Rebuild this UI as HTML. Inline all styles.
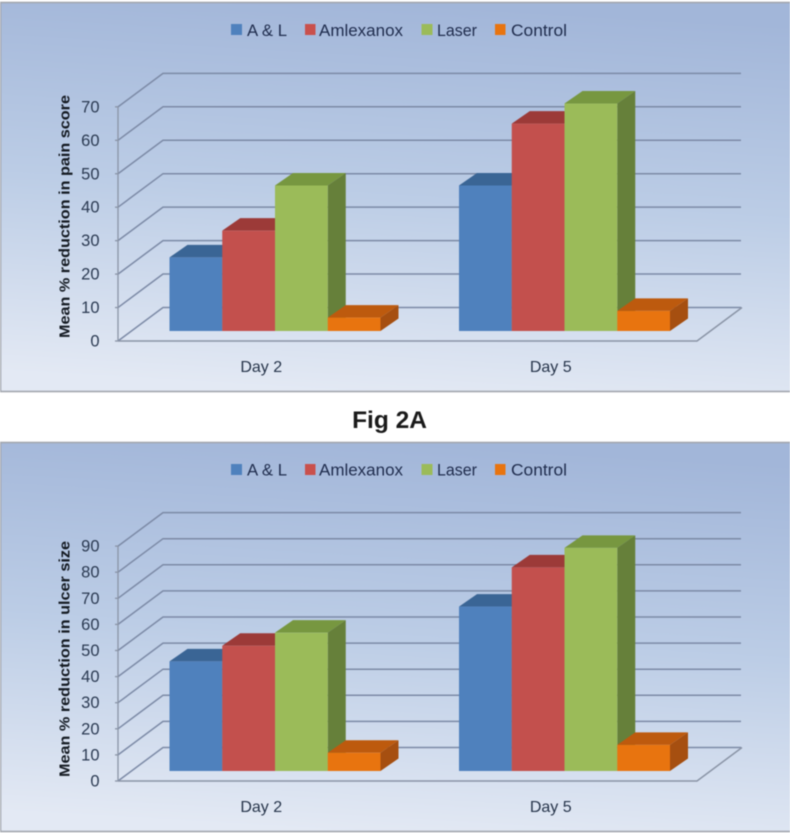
<!DOCTYPE html>
<html>
<head>
<meta charset="utf-8">
<title>Fig 2A and 2B</title>
<style>
html,body{margin:0;padding:0;background:#fff;width:790px;height:833px;overflow:hidden}
svg{display:block;filter:blur(0.5px)}
text{font-family:"Liberation Sans",sans-serif}
.lg{font-size:16.5px;fill:#1f2c4d}
.tick{font-size:16.5px;fill:#2b3a52;text-anchor:end}
.cat{font-size:16px;fill:#26344a;text-anchor:middle}
.ttl{font-size:15px;font-weight:bold;fill:#141a22}
</style>
</head>
<body>
<svg id="figure" xmlns="http://www.w3.org/2000/svg" width="790" height="833" viewBox="0 0 790 833">
  <defs>
    <linearGradient id="panelFill" x1="0.56" y1="0" x2="0.44" y2="1">
      <stop offset="0" stop-color="#a2b6d9"/>
      <stop offset="0.5" stop-color="#bccde6"/>
      <stop offset="1" stop-color="#e3e9f4"/>
    </linearGradient>
  </defs>

  <g id="chartA">
    <rect x="0.5" y="2.5" width="792" height="389" fill="url(#panelFill)" stroke="#a2a6ae" stroke-width="1.6"/>
    <g>
      <rect x="231" y="24" width="11" height="11" fill="#4f81bd"/>
      <text class="lg" x="247" y="36" textLength="40" lengthAdjust="spacingAndGlyphs">A &amp; L</text>
      <rect x="305" y="24" width="10.5" height="11" fill="#c9504c"/>
      <text class="lg" x="319" y="36" textLength="84" lengthAdjust="spacingAndGlyphs">Amlexanox</text>
      <rect x="421.5" y="24" width="11" height="11" fill="#9bbb59"/>
      <text class="lg" x="437" y="36" textLength="40" lengthAdjust="spacingAndGlyphs">Laser</text>
      <rect x="495" y="24" width="10.5" height="11" fill="#e8740f"/>
      <text class="lg" x="511" y="36" textLength="56" lengthAdjust="spacingAndGlyphs">Control</text>
    </g>
    <text class="ttl" transform="translate(69.5,338) rotate(-90)" textLength="243" lengthAdjust="spacingAndGlyphs">Mean % reduction in pain score</text>
  </g>

  <text x="389.5" y="428" text-anchor="middle" font-size="24.5" font-weight="bold" fill="#1a1a1a">Fig 2A</text>

  <g id="chartB" transform="translate(0,440)">
    <rect x="0.5" y="2.5" width="792" height="389" fill="url(#panelFill)" stroke="#a2a6ae" stroke-width="1.6"/>
    <g>
      <rect x="231" y="24" width="11" height="11" fill="#4f81bd"/>
      <text class="lg" x="247" y="35.5" textLength="40" lengthAdjust="spacingAndGlyphs">A &amp; L</text>
      <rect x="305" y="24" width="10.5" height="11" fill="#c9504c"/>
      <text class="lg" x="319" y="35.5" textLength="84" lengthAdjust="spacingAndGlyphs">Amlexanox</text>
      <rect x="421.5" y="24" width="11" height="11" fill="#9bbb59"/>
      <text class="lg" x="437" y="35.5" textLength="40" lengthAdjust="spacingAndGlyphs">Laser</text>
      <rect x="495" y="24" width="10.5" height="11" fill="#e8740f"/>
      <text class="lg" x="511" y="35.5" textLength="56" lengthAdjust="spacingAndGlyphs">Control</text>
    </g>
    <text class="ttl" transform="translate(69.5,337) rotate(-90)" textLength="236" lengthAdjust="spacingAndGlyphs">Mean % reduction in ulcer size</text>
  </g>
</svg>

<script>
var categories = ['Day 2', 'Day 5'];
var seriesNames = ['A & L', 'Amlexanox', 'Laser', 'Control'];

var painTicks = [0, 10, 20, 30, 40, 50, 60, 70];
var painAL = [22, 43.5];
var painAmlexanox = [30, 62];
var painLaser = [43.5, 68];
var painControl = [4, 6];

var ulcerTicks = [0, 10, 20, 30, 40, 50, 60, 70, 80, 90];
var ulcerAL = [42, 63];
var ulcerAmlexanox = [48, 78];
var ulcerLaser = [53, 85.5];
var ulcerControl = [7, 10];

var SVGNS = 'http://www.w3.org/2000/svg';
var faceColors = ['#4f81bd', '#c3504d', '#9bbb59', '#e8740f'];
var topColors = ['#3a6595', '#9c3a38', '#779740', '#bd5a0e'];
var sideColors = ['#33597f', '#8a3331', '#66803a', '#a64f10'];

var plotLeft = 118, plotRight = 697, axisBase = 341, barBase = 331;
var wallDx = 45, wallDy = -33.5, barDx = 18, barDy = -12.5, barW = 52.75, barInset = 51.5;

function make(parent, tag) {
  var el = document.createElementNS(SVGNS, tag);
  parent.appendChild(el);
  return el;
}
function poly(el, pts, fill) {
  el.setAttribute('points', pts.map(function (p) { return p[0] + ',' + p[1]; }).join(' '));
  el.setAttribute('fill', fill);
}
function line(el, x1, y1, x2, y2, color, w) {
  el.setAttribute('x1', x1);
  el.setAttribute('y1', y1);
  el.setAttribute('x2', x2);
  el.setAttribute('y2', y2);
  el.setAttribute('stroke', color);
  el.setAttribute('stroke-width', w);
}

function drawChart(root, ticks, series, unit) {
  function axisY(v) { return axisBase - v * unit; }
  function barY(v) { return barBase - v * unit; }
  var band = (plotRight - plotLeft) / categories.length;
  function bandX(i) { return plotLeft + i * band; }

  var grid = make(root, 'g');
  
  

  ticks.forEach(function (t) {
    var y = axisY(t);
    var wall = make(grid, 'polyline');
    
    
    var pts = [[plotLeft, y], [plotLeft + wallDx, y + wallDy], [plotRight + wallDx - 1, y + wallDy]];
    wall.setAttribute('points', pts.map(function (p) { return p.join(','); }).join(' '));
    wall.setAttribute('fill', 'none');
    wall.setAttribute('stroke', '#7c8aa6');
    wall.setAttribute('stroke-width', '1.5');

    var mark = make(root, 'line');
    
    
    line(mark, plotLeft - 3, y, plotLeft, y, '#8a94a6', 1.3);

    var label = make(root, 'text');
    
    
    label.setAttribute('class', 'tick');
    label.setAttribute('x', 99.5);
    label.setAttribute('y', y + 5.5);
    label.textContent = t;
  });

  var yAxis = make(root, 'line');
  
  
  line(yAxis, plotLeft, axisY(0), plotLeft, axisY(ticks[ticks.length - 1]), '#8a94a6', 1.3);

  var floorEdge = make(root, 'polyline');
  
  
  floorEdge.setAttribute('points', [[plotLeft, axisBase], [plotRight, axisBase], [plotRight + wallDx, axisBase + wallDy]].map(function (p) { return p.join(','); }).join(' '));
  floorEdge.setAttribute('fill', 'none');
  floorEdge.setAttribute('stroke', '#8a94a6');
  floorEdge.setAttribute('stroke-width', '1.5');

  categories.forEach(function (cat, i) {
    var group = make(root, 'g');
    
    

    series.forEach(function (vals, s) {
      var x0 = bandX(i) + barInset + s * barW;
      var x1 = x0 + barW;
      var yt = barY(vals[i]);

      var top = make(group, 'polygon');
      
      
      poly(top, [[x0, yt], [x0 + barDx, yt + barDy], [x1 + barDx, yt + barDy], [x1, yt]], topColors[s]);

      var side = make(group, 'polygon');
      
      
      poly(side, [[x1, yt], [x1 + barDx, yt + barDy], [x1 + barDx, barBase + barDy], [x1, barBase]], sideColors[s]);

      var front = make(group, 'rect');
      
      
      front.setAttribute('x', x0);
      front.setAttribute('y', yt);
      front.setAttribute('width', barW);
      front.setAttribute('height', barBase - yt);
      front.setAttribute('fill', faceColors[s]);
    });

    var catLabel = make(root, 'text');
    
    
    catLabel.setAttribute('class', 'cat');
    catLabel.setAttribute('x', bandX(i) + band / 2 - 1.5);
    catLabel.setAttribute('y', 372);
    catLabel.textContent = cat;
  });
}

drawChart(document.getElementById('chartA'), painTicks, [painAL, painAmlexanox, painLaser, painControl], 3.345);
drawChart(document.getElementById('chartB'), ulcerTicks, [ulcerAL, ulcerAmlexanox, ulcerLaser, ulcerControl], 2.61);
</script>
</body>
</html>
